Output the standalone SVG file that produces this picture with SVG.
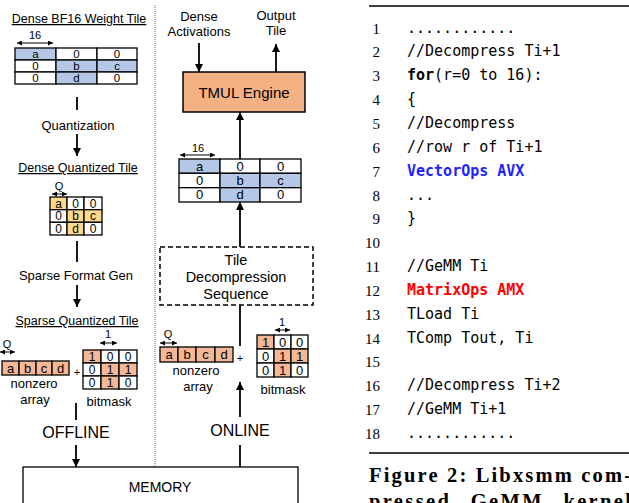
<svg xmlns="http://www.w3.org/2000/svg" width="629" height="503" viewBox="0 0 629 503">
<style>
text{font-family:"Liberation Sans",Arial,sans-serif;fill:#000}
.t12{font-size:12.5px;text-anchor:middle}
.t13{font-size:13px;text-anchor:middle}
.t11{font-size:11px;text-anchor:middle}
.cs{font-size:11.5px;text-anchor:middle}
.ct{font-size:12px;text-anchor:middle}
.ctb{font-size:13px;text-anchor:middle}
.ul{text-decoration:underline}
.cw{fill:#fff;stroke:#000;stroke-width:1.3}
.cb{fill:#b4c7e7;stroke:#000;stroke-width:1.3}
.cy{fill:#fcd98b;stroke:#000;stroke-width:1.3}
.co{fill:#f4b896;stroke:#000;stroke-width:1.3}
.ar{stroke:#000;stroke-width:1.8;fill:none}
.arh{stroke:#000;stroke-width:1.8;fill:none;marker-end:url(#ah)}
.dim{stroke:#000;stroke-width:1;fill:none;marker-start:url(#sh);marker-end:url(#sh)}
.num{font-family:"Liberation Serif","Times New Roman",serif;font-size:15px;text-anchor:end}
.code{font-family:"DejaVu Sans Mono","Liberation Mono",monospace;font-size:15px}
.b{font-weight:bold}
</style>
<defs>
<marker id="ah" viewBox="0 0 10 10" refX="10" refY="5" markerWidth="8" markerHeight="9" markerUnits="userSpaceOnUse" orient="auto"><path d="M0,0 L10,5 L0,10 z" fill="#000"/></marker>
<marker id="sh" viewBox="0 0 10 10" refX="10" refY="5" markerWidth="5" markerHeight="5" markerUnits="userSpaceOnUse" orient="auto-start-reverse"><path d="M0,0 L10,5 L0,10 z" fill="#000"/></marker>
</defs>

<!-- separator -->
<line x1="155" y1="5" x2="155" y2="467" stroke="#666" stroke-width="1" stroke-dasharray="1,1"/>

<g id="dense-bf16-tile">
<text class="t12 ul" x="79" y="23">Dense BF16 Weight Tile</text>
<line class="dim" x1="17" y1="43" x2="53" y2="43"/>
<text class="t11" x="35" y="39">16</text>
<rect class="cb" x="15" y="48" width="41" height="12"/><rect class="cw" x="56" y="48" width="41" height="12"/><rect class="cw" x="97" y="48" width="40" height="12"/>
<rect class="cw" x="15" y="60" width="41" height="12"/><rect class="cb" x="56" y="60" width="41" height="12"/><rect class="cb" x="97" y="60" width="40" height="12"/>
<rect class="cw" x="15" y="72" width="41" height="12"/><rect class="cb" x="56" y="72" width="41" height="12"/><rect class="cw" x="97" y="72" width="40" height="12"/>
<text class="cs" x="35.5" y="58.2">a</text><text class="cs" x="76.5" y="58.2">0</text><text class="cs" x="117" y="58.2">0</text>
<text class="cs" x="35.5" y="70.2">0</text><text class="cs" x="76.5" y="70.2">b</text><text class="cs" x="117" y="70.2">c</text>
<text class="cs" x="35.5" y="82.2">0</text><text class="cs" x="76.5" y="82.2">d</text><text class="cs" x="117" y="82.2">0</text>
</g>

<g id="quantization"><text class="t13" x="78" y="130">Quantization</text></g>

<g id="dense-quantized-tile">
<text class="t12 ul" x="78" y="172">Dense Quantized Tile</text>
<line class="dim" x1="52" y1="194" x2="67" y2="194"/>
<text class="t11" x="59" y="190">Q</text>
<rect class="cy" x="50" y="197" width="17" height="12.7"/><rect class="cw" x="67" y="197" width="17" height="12.7"/><rect class="cw" x="84" y="197" width="18" height="12.7"/>
<rect class="cw" x="50" y="209.7" width="17" height="12.6"/><rect class="cy" x="67" y="209.7" width="17" height="12.6"/><rect class="cy" x="84" y="209.7" width="18" height="12.6"/>
<rect class="cw" x="50" y="222.3" width="17" height="12.7"/><rect class="cy" x="67" y="222.3" width="17" height="12.7"/><rect class="cw" x="84" y="222.3" width="18" height="12.7"/>
<text class="ct" x="58.5" y="207.6">a</text><text class="ct" x="75.5" y="207.6">0</text><text class="ct" x="93" y="207.6">0</text>
<text class="ct" x="58.5" y="220.3">0</text><text class="ct" x="75.5" y="220.3">b</text><text class="ct" x="93" y="220.3">c</text>
<text class="ct" x="58.5" y="232.9">0</text><text class="ct" x="75.5" y="232.9">d</text><text class="ct" x="93" y="232.9">0</text>
</g>

<g id="sparse-format-gen"><text class="t13" x="76" y="280">Sparse Format Gen</text></g>

<g id="sparse-quantized-tile">
<text class="t12 ul" x="77" y="325">Sparse Quantized Tile</text>
<line class="dim" x1="0" y1="352" x2="15" y2="352"/>
<text class="t11" x="7" y="348">Q</text>
<rect class="co" x="2" y="361" width="17" height="14"/><rect class="co" x="19" y="361" width="17" height="14"/><rect class="co" x="36" y="361" width="16" height="14"/><rect class="co" x="52" y="361" width="17" height="14"/>
<text class="ctb" x="10.5" y="372.5">a</text><text class="ctb" x="27.5" y="372.5">b</text><text class="ctb" x="44" y="372.5">c</text><text class="ctb" x="60.5" y="372.5">d</text>
<text class="t11" x="77" y="376">+</text>
<line class="dim" x1="100" y1="343" x2="117" y2="343"/>
<text class="t11" x="108" y="338">1</text>
<rect class="co" x="83" y="350" width="18" height="13"/><rect class="cw" x="101" y="350" width="18" height="13"/><rect class="cw" x="119" y="350" width="18" height="13"/>
<rect class="cw" x="83" y="363" width="18" height="13"/><rect class="co" x="101" y="363" width="18" height="13"/><rect class="co" x="119" y="363" width="18" height="13"/>
<rect class="cw" x="83" y="376" width="18" height="13"/><rect class="co" x="101" y="376" width="18" height="13"/><rect class="cw" x="119" y="376" width="18" height="13"/>
<text class="ct" x="92" y="360.8">1</text><text class="ct" x="110" y="360.8">0</text><text class="ct" x="128" y="360.8">0</text>
<text class="ct" x="92" y="373.8">0</text><text class="ct" x="110" y="373.8">1</text><text class="ct" x="128" y="373.8">1</text>
<text class="ct" x="92" y="386.8">0</text><text class="ct" x="110" y="386.8">1</text><text class="ct" x="128" y="386.8">0</text>
<text class="t13" x="34" y="388">nonzero</text>
<text class="t13" x="35" y="404">array</text>
<text class="t13" x="109" y="406">bitmask</text>
</g>

<g id="offline"><text x="76" y="438" style="font-size:16px;text-anchor:middle">OFFLINE</text></g>
<g id="online"><text x="240" y="436" style="font-size:16px;text-anchor:middle">ONLINE</text></g>

<g id="memory">
<rect x="23" y="467" width="275" height="50" fill="#fff" stroke="#000" stroke-width="1.3"/>
<text x="160" y="492" style="font-size:14px;text-anchor:middle">MEMORY</text>
</g>

<g id="dense-activations"><text class="t13" x="199" y="21">Dense</text><text class="t13" x="199" y="36">Activations</text></g>
<g id="output-tile"><text class="t13" x="276" y="20">Output</text><text class="t13" x="276" y="35">Tile</text></g>

<g id="tmul-engine">
<rect x="183" y="72" width="122" height="40" fill="#f4b183" stroke="#000" stroke-width="1.5"/>
<text x="244" y="97.5" style="font-size:15px;text-anchor:middle">TMUL Engine</text>
</g>

<g id="decompressed-tile">
<line class="dim" x1="180" y1="155" x2="215" y2="155"/>
<text class="t11" x="198" y="152">16</text>
<rect class="cb" x="179" y="159" width="41" height="14.3"/><rect class="cw" x="220" y="159" width="40" height="14.3"/><rect class="cw" x="260" y="159" width="41" height="14.3"/>
<rect class="cw" x="179" y="173.3" width="41" height="14.4"/><rect class="cb" x="220" y="173.3" width="40" height="14.4"/><rect class="cb" x="260" y="173.3" width="41" height="14.4"/>
<rect class="cw" x="179" y="187.7" width="41" height="14.3"/><rect class="cb" x="220" y="187.7" width="40" height="14.3"/><rect class="cw" x="260" y="187.7" width="41" height="14.3"/>
<text class="ctb" x="199.5" y="170.5">a</text><text class="ctb" x="240" y="170.5">0</text><text class="ctb" x="280.5" y="170.5">0</text>
<text class="ctb" x="199.5" y="184.8">0</text><text class="ctb" x="240" y="184.8">b</text><text class="ctb" x="280.5" y="184.8">c</text>
<text class="ctb" x="199.5" y="199">0</text><text class="ctb" x="240" y="199">d</text><text class="ctb" x="280.5" y="199">0</text>
</g>

<g id="tile-decompression-sequence">
<rect x="160" y="247" width="153" height="58" fill="none" stroke="#000" stroke-width="1.5" stroke-dasharray="5,3"/>
<text x="236" y="265" style="font-size:14.5px;text-anchor:middle">Tile</text>
<text x="236" y="282" style="font-size:14.5px;text-anchor:middle">Decompression</text>
<text x="236" y="299" style="font-size:14.5px;text-anchor:middle">Sequence</text>
</g>

<g id="online-sparse-tile">
<line class="dim" x1="160" y1="343" x2="177" y2="343"/>
<text class="t11" x="168" y="338">Q</text>
<rect class="co" x="160" y="347" width="18" height="15"/><rect class="co" x="178" y="347" width="18" height="15"/><rect class="co" x="196" y="347" width="19" height="15"/><rect class="co" x="215" y="347" width="18" height="15"/>
<text class="ctb" x="169" y="359">a</text><text class="ctb" x="187" y="359">b</text><text class="ctb" x="205.5" y="359">c</text><text class="ctb" x="224" y="359">d</text>
<text class="t11" x="240" y="362">+</text>
<line class="dim" x1="275" y1="330" x2="290" y2="330"/>
<text class="t11" x="282" y="326">1</text>
<rect class="co" x="257" y="335" width="17" height="14"/><rect class="cw" x="274" y="335" width="17" height="14"/><rect class="cw" x="291" y="335" width="17" height="14"/>
<rect class="cw" x="257" y="349" width="17" height="14"/><rect class="co" x="274" y="349" width="17" height="14"/><rect class="co" x="291" y="349" width="17" height="14"/>
<rect class="cw" x="257" y="363" width="17" height="14"/><rect class="co" x="274" y="363" width="17" height="14"/><rect class="cw" x="291" y="363" width="17" height="14"/>
<text class="ctb" x="265.5" y="346.5">1</text><text class="ctb" x="282.5" y="346.5">0</text><text class="ctb" x="299.5" y="346.5">0</text>
<text class="ctb" x="265.5" y="360.5">0</text><text class="ctb" x="282.5" y="360.5">1</text><text class="ctb" x="299.5" y="360.5">1</text>
<text class="ctb" x="265.5" y="374.5">0</text><text class="ctb" x="282.5" y="374.5">1</text><text class="ctb" x="299.5" y="374.5">0</text>
<text class="t13" x="196" y="375">nonzero</text>
<text class="t13" x="198" y="391">array</text>
<text class="t13" x="283" y="394">bitmask</text>
</g>

<g id="connectors">
<line class="ar" x1="77" y1="97" x2="77" y2="110"/>
<line class="arh" x1="77" y1="134" x2="77" y2="156"/>
<line class="ar" x1="77" y1="241" x2="77" y2="262"/>
<line class="arh" x1="77" y1="285" x2="77" y2="307"/>
<line class="ar" x1="76" y1="403" x2="76" y2="420"/>
<line class="arh" x1="76" y1="445" x2="76" y2="467"/>
<line class="ar" x1="240" y1="445" x2="240" y2="467"/>
<line class="arh" x1="240" y1="417" x2="240" y2="382"/>
<line class="ar" x1="240" y1="305" x2="240" y2="346"/>
<line class="arh" x1="240" y1="247" x2="240" y2="202"/>
<line class="arh" x1="240" y1="159" x2="240" y2="112"/>
<line class="arh" x1="199" y1="43" x2="199" y2="72"/>
<line class="arh" x1="276" y1="72" x2="276" y2="44"/>
</g>

<g id="code-listing">
<line x1="369" y1="6" x2="629" y2="6" stroke="#000" stroke-width="1.5"/>
<text class="num" x="380" y="33.5">1</text><text class="code" x="407" y="32.5">............</text>
<text class="num" x="380" y="57.4">2</text><text class="code" x="407" y="56.4">//Decompress Ti+1</text>
<text class="num" x="380" y="81.2">3</text><text class="code" x="407" y="80.2"><tspan class="b">for</tspan>(r=0 to 16):</text>
<text class="num" x="380" y="105">4</text><text class="code" x="407" y="104">{</text>
<text class="num" x="380" y="128.9">5</text><text class="code" x="407" y="127.9">//Decompress</text>
<text class="num" x="380" y="152.8">6</text><text class="code" x="407" y="151.8">//row r of Ti+1</text>
<text class="num" x="380" y="176.6">7</text><text class="code b" x="407" y="175.6" style="fill:#1f1fff">VectorOps AVX</text>
<text class="num" x="380" y="200.5">8</text><text class="code" x="407" y="199.5">...</text>
<text class="num" x="380" y="224.3">9</text><text class="code" x="407" y="223.3">}</text>
<text class="num" x="380" y="248.2">10</text>
<text class="num" x="380" y="272">11</text><text class="code" x="407" y="271">//GeMM Ti</text>
<text class="num" x="380" y="295.9">12</text><text class="code b" x="407" y="294.9" style="fill:#ff0000">MatrixOps AMX</text>
<text class="num" x="380" y="319.7">13</text><text class="code" x="407" y="318.7">TLoad Ti</text>
<text class="num" x="380" y="343.6">14</text><text class="code" x="407" y="342.6">TComp Tout, Ti</text>
<text class="num" x="380" y="367.4">15</text>
<text class="num" x="380" y="391.3">16</text><text class="code" x="407" y="390.3">//Decompress Ti+2</text>
<text class="num" x="380" y="415.1">17</text><text class="code" x="407" y="414.1">//GeMM Ti+1</text>
<text class="num" x="380" y="439">18</text><text class="code" x="407" y="438">............</text>
<line x1="369" y1="453" x2="629" y2="453" stroke="#000" stroke-width="1.5"/>
<text x="369" y="482" textLength="262" lengthAdjust="spacing" style="font-family:'Liberation Serif','Times New Roman',serif;font-size:20.5px;font-weight:bold">Figure 2: Libxsmm com-</text>
<text x="369" y="508" textLength="262" lengthAdjust="spacing" style="font-family:'Liberation Serif','Times New Roman',serif;font-size:20.5px;font-weight:bold;word-spacing:12px">pressed GeMM kernel</text>
</g>
</svg>
